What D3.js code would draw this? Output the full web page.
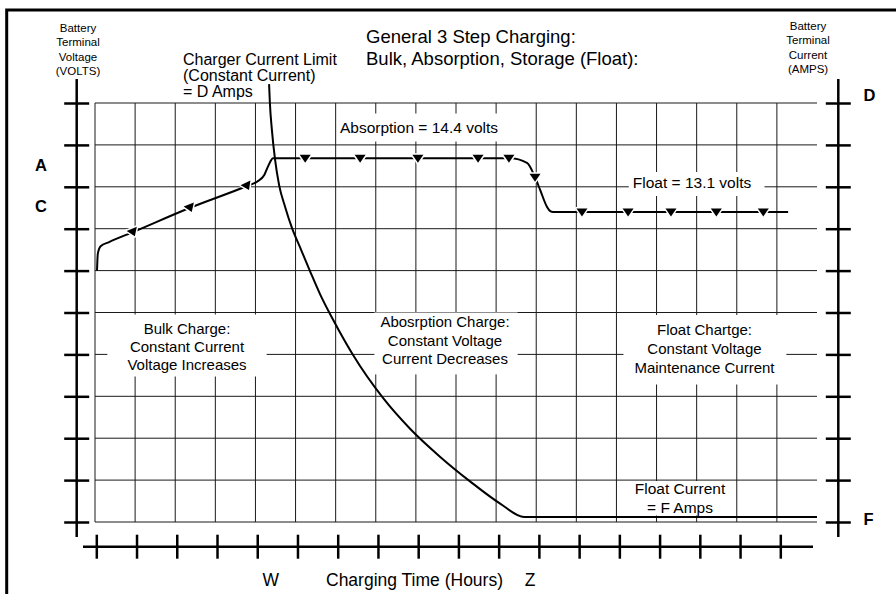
<!DOCTYPE html>
<html><head><meta charset="utf-8">
<script src="https://cdn.jsdelivr.net/npm/d3@7/dist/d3.min.js"></script>
<style>
body{margin:0;background:#fff}
svg{display:block}
text{font-family:"Liberation Sans", Arial, Helvetica, sans-serif; fill:#000}
</style>
</head><body>
<svg id="chart" width="896" height="594"></svg>
<script>
// ---------------- DATA ----------------
const gridTimes  = [0,1,2,3,4,5,6,7,8,9,10,11,12,13,14,15,16,17];
const gridLevels = [0,1,2,3,4,5,6,7,8,9,10];
const timeTicks  = [0,1,2,3,4,5,6,7,8,9,10,11,12,13,14,15,16,17];

// battery terminal voltage (schematic grid units)
const voltTime  = [0.05,0.07,0.14,0.35,0.95,2.37,3.79,4.04,4.22,4.32,4.44,10.35,10.77,10.97,11.10,11.27,11.35,11.42,17.28];
const voltLevel = [6.00,6.40,6.58,6.68,6.92,7.50,8.02,8.12,8.28,8.50,8.68,8.68,8.57,8.23,7.92,7.52,7.42,7.40,7.40];

// battery terminal current (schematic grid units)
const currTime  = [4.34,4.36,4.41,4.49,4.59,4.74,4.91,5.11,5.36,5.61,5.94,6.43,7.18,7.86,8.60,9.35,10.10,10.70,18.0];
const currLevel = [10.45,10.0,9.36,8.64,8.04,7.52,7.02,6.56,5.99,5.44,4.82,3.99,2.96,2.22,1.56,0.97,0.44,0.12,0.12];

// direction markers on the voltage curve
const bulkMarkTime   = [0.95,2.37,3.79];
const bulkMarkLevel  = [6.92,7.50,8.02];
const absMarkTime    = [5.24,6.61,8.05,9.55,10.32,10.97];
const absMarkLevel   = [8.68,8.68,8.68,8.68,8.68,8.23];
const floatMarkTime  = [12.14,13.29,14.36,15.49,16.66];
const floatMarkLevel = [7.40,7.40,7.40,7.40,7.40];

// text
const titleLines   = ["General 3 Step Charging:", "Bulk, Absorption, Storage (Float):"];
const limitLines   = ["Charger Current Limit", "(Constant Current)", "= D Amps"];
const leftAxisLines  = ["Battery","Terminal","Voltage","(VOLTS)"];
const rightAxisLines = ["Battery","Terminal","Current","(AMPS)"];
const bulkLines    = ["Bulk Charge:","Constant Current","Voltage Increases"];
const absLines     = ["Abosrption Charge:","Constant Voltage","Current Decreases"];
const floatLines   = ["Float Chartge:","Constant Voltage","Maintenance Current"];
const floatCurLines= ["Float Current","= F Amps"];

// ---------------- CHART ----------------
const svg = d3.select("#chart");
const x = d3.scaleLinear().domain([0,18]).range([95,817]);
const y = d3.scaleLinear().domain([0,10]).range([522,103]);

// outer frame (only left/top edges visible)
svg.append("rect").attr("x",6.7).attr("y",10).attr("width",2000).attr("height",2000)
  .attr("fill","none").attr("stroke","#000").attr("stroke-width",3);

// grid
const grid = svg.append("g").attr("stroke","#1a1a1a").attr("stroke-width",1).attr("fill","none");
grid.selectAll("line.v").data(gridTimes).join("line").attr("class","v")
  .attr("x1",d=>x(d)).attr("x2",d=>x(d)).attr("y1",y(10)).attr("y2",y(0));
grid.selectAll("line.h").data(gridLevels).join("line").attr("class","h")
  .attr("x1",x(0)).attr("x2",x(18)).attr("y1",d=>y(d)).attr("y2",d=>y(d));

// left axis
const axLx = 76.7;
const gL = svg.append("g").attr("transform",`translate(${axLx},0)`)
  .call(d3.axisLeft(y).tickValues(gridLevels).tickSize(0).tickFormat(""));
gL.select(".domain").remove();
gL.selectAll(".tick line").attr("x1",-12.5).attr("x2",12.5).attr("stroke","#000").attr("stroke-width",2.5);
svg.append("line").attr("x1",axLx).attr("x2",axLx).attr("y1",79).attr("y2",537)
  .attr("stroke","#000").attr("stroke-width",2.5);

// right axis
const axRx = 838.3;
const gR = svg.append("g").attr("transform",`translate(${axRx},0)`)
  .call(d3.axisRight(y).tickValues(gridLevels).tickSize(0).tickFormat(""));
gR.select(".domain").remove();
gR.selectAll(".tick line").attr("x1",-12.5).attr("x2",12.5).attr("stroke","#000").attr("stroke-width",2.5);
svg.append("line").attr("x1",axRx).attr("x2",axRx).attr("y1",79).attr("y2",537)
  .attr("stroke","#000").attr("stroke-width",2.5);

// bottom axis
const axBy = 546.7;
const xt = d3.scaleLinear().domain([0,17]).range([96.3,780.3]);
const gB = svg.append("g").attr("transform",`translate(0,${axBy})`)
  .call(d3.axisBottom(xt).tickValues(timeTicks).tickSize(0).tickFormat(""));
gB.select(".domain").remove();
gB.selectAll(".tick line").attr("y1",-12).attr("y2",12).attr("stroke","#000").attr("stroke-width",2.5);
svg.append("line").attr("x1",83).attr("x2",813).attr("y1",axBy).attr("y2",axBy)
  .attr("stroke","#000").attr("stroke-width",2.5);

// labels with white boxes (drawn over grid)
function boxedLabel(lines, cx, baseline0, lh, size, pad, anchor){
  const g = svg.append("g");
  const bg = g.append("rect").attr("fill","#fff");
  const t = g.append("g");
  lines.forEach((s,i)=>{
    t.append("text").attr("x",cx).attr("y",baseline0+i*lh)
      .attr("text-anchor",anchor||"middle").attr("font-size",size).text(s);
  });
  const b = t.node().getBBox();
  bg.attr("x",b.x-pad[0]).attr("width",b.width+pad[0]+pad[1])
    .attr("y",b.y-pad[2]).attr("height",b.height+pad[2]+pad[3]);
  return g;
}
boxedLabel(bulkLines, 187, 333.5, 18, 15, [20,20,5,4]);
boxedLabel(absLines, 445, 327, 18.7, 15, [6,8,0.5,7]);
boxedLabel(floatLines, 704.5, 334.5, 19, 15, [11,11,5.5,9]);
boxedLabel(["Absorption = 14.4 volts"], 419, 132.5, 18, 15.5, [2,2,5,6]);
boxedLabel(["Float = 13.1 volts"], 692, 188, 18, 15.5, [4,13,2,5]);
boxedLabel(floatCurLines, 680, 493.5, 19, 15.5, [1,1,-1.5,0]);

// plain texts
function plain(lines, px, baseline0, lh, size, anchor, weight){
  lines.forEach((s,i)=>{
    svg.append("text").attr("x",px).attr("y",baseline0+i*lh)
      .attr("text-anchor",anchor).attr("font-size",size)
      .attr("font-weight",weight||"normal").text(s);
  });
}
plain(titleLines, 366, 42.5, 22, 18.5, "start");
plain(limitLines, 183, 65, 16, 16, "start");
plain(leftAxisLines, 78, 32, 14.3, 11.5, "middle");
plain(rightAxisLines, 808, 29.5, 14.6, 11.5, "middle");
plain(["W"], 270.7, 586, 0, 17.5, "middle");
plain(["Charging Time (Hours)"], 414.5, 586, 0, 17.5, "middle");
plain(["Z"], 530, 586, 0, 17.5, "middle");
plain(["A"], 41, 171, 0, 16.5, "middle", "bold");
plain(["C"], 41, 212, 0, 16.5, "middle", "bold");
plain(["D"], 869.5, 101, 0, 16.5, "middle", "bold");
plain(["F"], 868.5, 525, 0, 16.5, "middle", "bold");

// curves
const lineGen = d3.line().x(d=>x(d[0])).y(d=>y(d[1])).curve(d3.curveMonotoneX);
const voltData = voltTime.map((t,i)=>[t,voltLevel[i]]);
const currData = currTime.map((t,i)=>[t,currLevel[i]]);
svg.append("path").attr("d",lineGen(currData)).attr("fill","none")
  .attr("stroke","#000").attr("stroke-width",2);
svg.append("path").attr("d",lineGen(voltData)).attr("fill","none")
  .attr("stroke","#000").attr("stroke-width",2);

// markers
function interpV(t){
  for(let i=1;i<voltTime.length;i++){
    if(t<=voltTime[i]){
      const f=(t-voltTime[i-1])/(voltTime[i]-voltTime[i-1]);
      return voltLevel[i-1]+f*(voltLevel[i]-voltLevel[i-1]);
    }
  }
  return voltLevel[voltLevel.length-1];
}
const tri = "M-5.5,-3.5L5.5,-3.5L0,4.5Z";
function markers(ts, vs, rotate){
  ts.forEach((t,i)=>{
    let a = 0;
    if(rotate){
      const dx = x(t+0.4)-x(t-0.4), dy = y(interpV(t+0.4))-y(interpV(t-0.4));
      a = Math.atan2(dy,dx)*180/Math.PI;
    }
    svg.append("path").attr("d",tri)
      .attr("transform",`translate(${x(t)},${y(vs[i])}) rotate(${a})`)
      .attr("fill","#000").attr("stroke","#fff").attr("stroke-width",3)
      .attr("paint-order","stroke").attr("stroke-linejoin","round");
  });
}
markers(bulkMarkTime, bulkMarkLevel, true);
markers(absMarkTime, absMarkLevel, false);
markers(floatMarkTime, floatMarkLevel, false);
</script>
</body></html>
